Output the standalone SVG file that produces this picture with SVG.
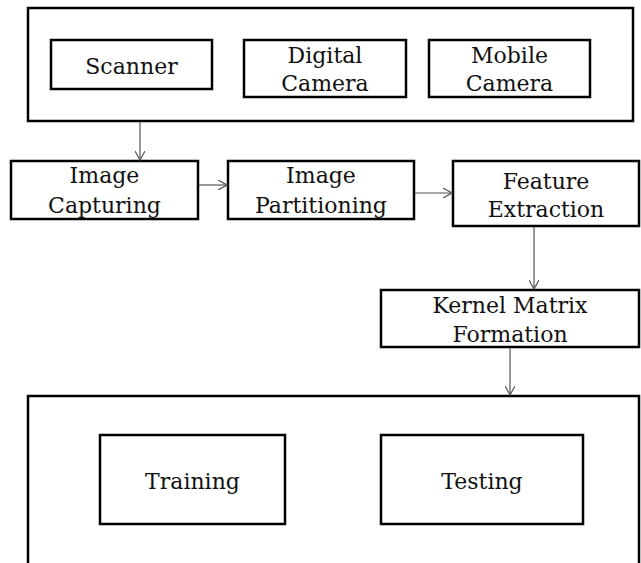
<svg xmlns="http://www.w3.org/2000/svg" width="641" height="563" viewBox="0 0 641 563">
<defs>
<style>
.box{fill:#fff;stroke:#000;stroke-width:2.5}
.t{font-family:"DejaVu Serif","Liberation Serif",serif;font-size:22px;fill:#111;text-anchor:middle}
.c{stroke:#555;stroke-width:1.2;fill:none}
</style>
<marker id="ah" viewBox="0 0 10 10" refX="9" refY="5" markerWidth="10" markerHeight="10" markerUnits="userSpaceOnUse" orient="auto">
<path d="M0,0 L9,5 L0,10" fill="none" stroke="#555" stroke-width="1.2"/>
</marker>
</defs>
<rect width="641" height="563" fill="#fff"/>
<g id="sources">
<rect class="box" x="28" y="8" width="605" height="113"/>
</g>
<g id="scanner">
<rect class="box" x="51" y="40" width="161" height="49"/>
<text class="t" x="131.5" y="74">Scanner</text>
</g>
<g id="digital-camera">
<rect class="box" x="244" y="40" width="162" height="57"/>
<text class="t" x="325" y="63">Digital</text>
<text class="t" x="325" y="91">Camera</text>
</g>
<g id="mobile-camera">
<rect class="box" x="429" y="40" width="161" height="57"/>
<text class="t" x="509.5" y="63">Mobile</text>
<text class="t" x="509.5" y="91">Camera</text>
</g>
<g id="image-capturing">
<rect class="box" x="11" y="161" width="187" height="58"/>
<text class="t" x="104.5" y="183">Image</text>
<text class="t" x="104.5" y="213">Capturing</text>
</g>
<g id="image-partitioning">
<rect class="box" x="228" y="161" width="186" height="58"/>
<text class="t" x="321" y="183">Image</text>
<text class="t" x="321" y="213">Partitioning</text>
</g>
<g id="feature-extraction">
<rect class="box" x="453" y="161" width="186" height="65"/>
<text class="t" x="546" y="189">Feature</text>
<text class="t" x="546" y="217">Extraction</text>
</g>
<g id="kernel-matrix">
<rect class="box" x="381" y="290" width="258" height="57"/>
<text class="t" x="510" y="313">Kernel Matrix</text>
<text class="t" x="510" y="342">Formation</text>
</g>
<g id="classification">
<rect class="box" x="28" y="396" width="611" height="180"/>
</g>
<g id="training">
<rect class="box" x="100" y="435" width="185" height="89"/>
<text class="t" x="192.5" y="489">Training</text>
</g>
<g id="testing">
<rect class="box" x="381" y="435" width="202" height="89"/>
<text class="t" x="482" y="489">Testing</text>
</g>
<g id="connectors">
<line class="c" x1="140" y1="122" x2="140" y2="160" marker-end="url(#ah)"/>
<line class="c" x1="199" y1="185" x2="227" y2="185" marker-end="url(#ah)"/>
<line class="c" x1="415" y1="193" x2="452" y2="193" marker-end="url(#ah)"/>
<line class="c" x1="534" y1="227" x2="534" y2="289" marker-end="url(#ah)"/>
<line class="c" x1="510" y1="348" x2="510" y2="395" marker-end="url(#ah)"/>
</g>
</svg>
